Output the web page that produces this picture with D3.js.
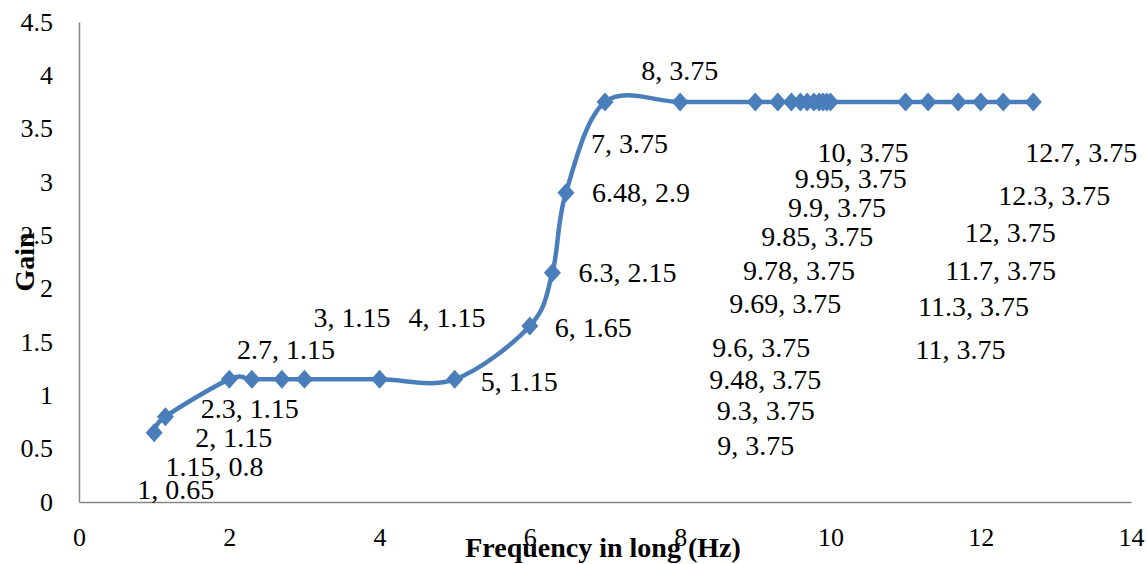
<!DOCTYPE html>
<html>
<head>
<meta charset="utf-8">
<script src="https://cdn.jsdelivr.net/npm/d3@7"></script>
<style>
  body { margin: 0; background: #fff; }
  .tick text { font-family: "Liberation Serif", serif; font-size: 26px; fill: #000; }
  .domain { stroke: #868686; stroke-width: 1.5px; }
  .pt-label { font-family: "Liberation Serif", serif; font-size: 28px; fill: #000; }
  .axis-title { font-family: "Liberation Serif", serif; font-size: 28px; font-weight: bold; fill: #000; }
</style>
</head>
<body>
<div id="chart"></div>
<script>
// data
const freq = [1, 1.15, 2, 2.3, 2.7, 3, 4, 5, 6, 6.3, 6.48, 7, 8, 9, 9.3, 9.48, 9.6, 9.69,
  9.78, 9.85, 9.9, 9.95, 10, 11, 11.3, 11.7, 12, 12.3, 12.7];
const gain = [0.65, 0.8, 1.15, 1.15, 1.15, 1.15, 1.15, 1.15, 1.65, 2.15, 2.9, 3.75, 3.75,
  3.75, 3.75, 3.75, 3.75, 3.75, 3.75, 3.75, 3.75, 3.75, 3.75, 3.75, 3.75, 3.75, 3.75, 3.75, 3.75];
const xTicks = [0, 2, 4, 6, 8, 10, 12, 14];
const yTicks = [0, 0.5, 1, 1.5, 2, 2.5, 3, 3.5, 4, 4.5];

// manual label placement (px offsets from the point: left edge, vertical centre)
const labelOffsets = [
  [-17, 57], [0, 50], [-34, 58], [-51, 29], [-45, -30], [9, -62], [29, -62], [26, 2],
  [25, 1], [26, 0], [26, 0], [-14, 41], [-39, -32], [-38, 343], [-61, 308], [-82, 277],
  [-88, 245], [-78, 201], [-71, 168], [-58, 134], [-35, 105], [-32, 76], [-13, 50],
  [10, 247], [-10, 204], [-13, 168], [-16, 130], [-5, 93], [-8, 50]
];

const config = {
  width: 1146,
  height: 564,
  margin: { top: 22, right: 15, bottom: 62, left: 79 },
  color: "#4A7EBB"
};

const points = freq.map((f, i) => ({ x: f, y: gain[i], off: labelOffsets[i] }));

const svg = d3.select("#chart")
  .append("svg")
  .attr("width", config.width)
  .attr("height", config.height);

const m = config.margin;
const xScale = d3.scaleLinear().domain([0, 14]).range([m.left, 1131]);
const yScale = d3.scaleLinear().domain([0, 4.5]).range([502, m.top]);

// axes
const xAxis = d3.axisBottom(xScale).tickValues(xTicks).tickSize(0).tickPadding(26)
  .tickFormat(d3.format("d"));
const yAxis = d3.axisLeft(yScale).tickValues(yTicks).tickSize(0).tickPadding(26)
  .tickFormat(d => d);

svg.append("g")
  .attr("transform", `translate(0,${yScale(0)})`)
  .call(xAxis)
  .call(g => g.selectAll("text").attr("font-family", null).attr("font-size", null));

svg.append("g")
  .attr("transform", `translate(${xScale(0)},0)`)
  .call(yAxis)
  .call(g => g.selectAll("text").attr("font-family", null).attr("font-size", null));

// smoothed line, Excel style
const line = d3.line()
  .x(d => xScale(d.x))
  .y(d => yScale(d.y))
  .curve(d3.curveCardinal.tension(0));

svg.append("path")
  .datum(points)
  .attr("fill", "none")
  .attr("stroke", config.color)
  .attr("stroke-width", 4.5)
  .attr("d", line);

// diamond markers
const hw = 8.5, hh = 9.5;
svg.append("g")
  .selectAll("path")
  .data(points)
  .join("path")
  .attr("d", `M0,${-hh}L${hw},0L0,${hh}L${-hw},0Z`)
  .attr("transform", d => `translate(${xScale(d.x)},${yScale(d.y)})`)
  .attr("fill", config.color);

// data labels
svg.append("g")
  .selectAll("text")
  .data(points)
  .join("text")
  .attr("class", "pt-label")
  .attr("x", d => xScale(d.x) + d.off[0])
  .attr("y", d => yScale(d.y) + d.off[1])
  .attr("dy", "0.35em")
  .text(d => `${d.x}, ${d.y}`);

// axis titles
svg.append("text")
  .attr("class", "axis-title")
  .attr("x", 603)
  .attr("y", 557)
  .attr("text-anchor", "middle")
  .text("Frequency in long (Hz)");

svg.append("text")
  .attr("class", "axis-title")
  .attr("transform", "translate(34,262) rotate(-90)")
  .attr("text-anchor", "middle")
  .text("Gain");
</script>
</body>
</html>
